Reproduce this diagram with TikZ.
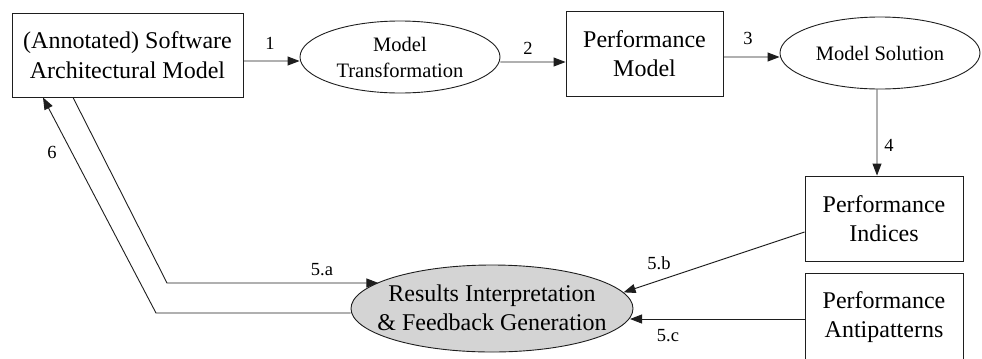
\documentclass[tikz,border=0pt]{standalone}
\usepackage{fontspec}
\setmainfont{Liberation Serif}
\usetikzlibrary{shapes.geometric,arrows.meta}
\definecolor{resfill}{RGB}{212,212,212}
\definecolor{ink}{RGB}{30,30,30}
\tikzset{
  boxnode/.style={draw=ink, line width=0.9bp, rectangle, inner sep=0pt, align=center,
    font=\fontsize{24bp}{29.5bp}\selectfont},
  ellnode/.style={draw=ink, line width=0.9bp, ellipse, inner sep=0pt},
  elltext/.style={align=center, inner sep=0pt},
  arr/.style={draw=ink, line width=0.9bp, -{Triangle[length=12bp,width=9bp]}},
  lbl/.style={inner sep=0pt, font=\fontsize{18.5bp}{20bp}\selectfont}
}
\begin{document}
\begin{tikzpicture}[x=1bp,y=-1bp]
\useasboundingbox (0,0) rectangle (982,358);
\clip (0,0) rectangle (982,358);

% process boxes
\node[boxnode, minimum width=231bp, minimum height=84bp] (A) at (127.5,55)
  {(Annotated) Software\\Architectural Model};
\node[boxnode, minimum width=157bp, minimum height=85bp] (B) at (644.5,53.5)
  {Performance\\Model};
\node[boxnode, minimum width=158bp, minimum height=85bp] (C) at (884,218.5)
  {Performance\\Indices};
\node[boxnode, minimum width=158bp, minimum height=88bp] (D) at (884,317)
  {Performance\\Antipatterns};

% activities
\node[ellnode, minimum width=200bp, minimum height=72bp] (MT) at (400,57) {};
\node[elltext, font=\fontsize{20.5bp}{26bp}\selectfont] at (MT) {Model\\Transformation};
\node[ellnode, minimum width=200bp, minimum height=72bp] (MS) at (880,53) {};
\node[elltext, font=\fontsize{20.5bp}{26bp}\selectfont] at (MS) {Model Solution};
\node[ellnode, fill=resfill, minimum width=282bp, minimum height=87bp] (R) at (492,308.5) {};
\node[elltext, font=\fontsize{24bp}{29bp}\selectfont] at ([yshift=1bp]R) {Results Interpretation\\\& Feedback Generation};

% bends of the feedback loop
\coordinate (k5a) at (167,283);
\coordinate (k6) at (156,313);

% connectors
\draw[arr] ([yshift=-6bp]A.east) -- ([yshift=-4bp]MT.west);
\draw[arr] ([yshift=-5bp]MT.east) -- ([yshift=-8.5bp]B.west);
\draw[arr] ([yshift=-3.5bp]B.east) -- ([yshift=-4bp]MS.west);
\draw[arr] ([xshift=-3bp]MS.south) -- ([xshift=-7bp]C.north);
\draw[arr] ([yshift=-13.5bp]C.west) -- (R.7);
\draw[arr] ([yshift=-2bp]D.west) -- ([yshift=-2bp]D.west -| R.-4);
\draw[arr] ([xshift=-54.5bp]A.south) -- (k5a) -- (R.167 |- k5a);
\draw[arr] ([yshift=-4.5bp]R.west) -- (k6) -- ([xshift=-84.5bp]A.south);

% connector labels
\node[lbl] (l1) at (270,43) {1};
\node[lbl] (l2) at (528,48) {2};
\node[lbl] (l3) at (748,38) {3};
\node[lbl] (l4) at (889,145) {4};
\node[lbl] (l6) at (52,152) {6};
\node[lbl] (l5a) at (322,270) {5.a};
\node[lbl] (l5b) at (659,263) {5.b};
\node[lbl] (l5c) at (668,336) {5.c};
\end{tikzpicture}
\end{document}
